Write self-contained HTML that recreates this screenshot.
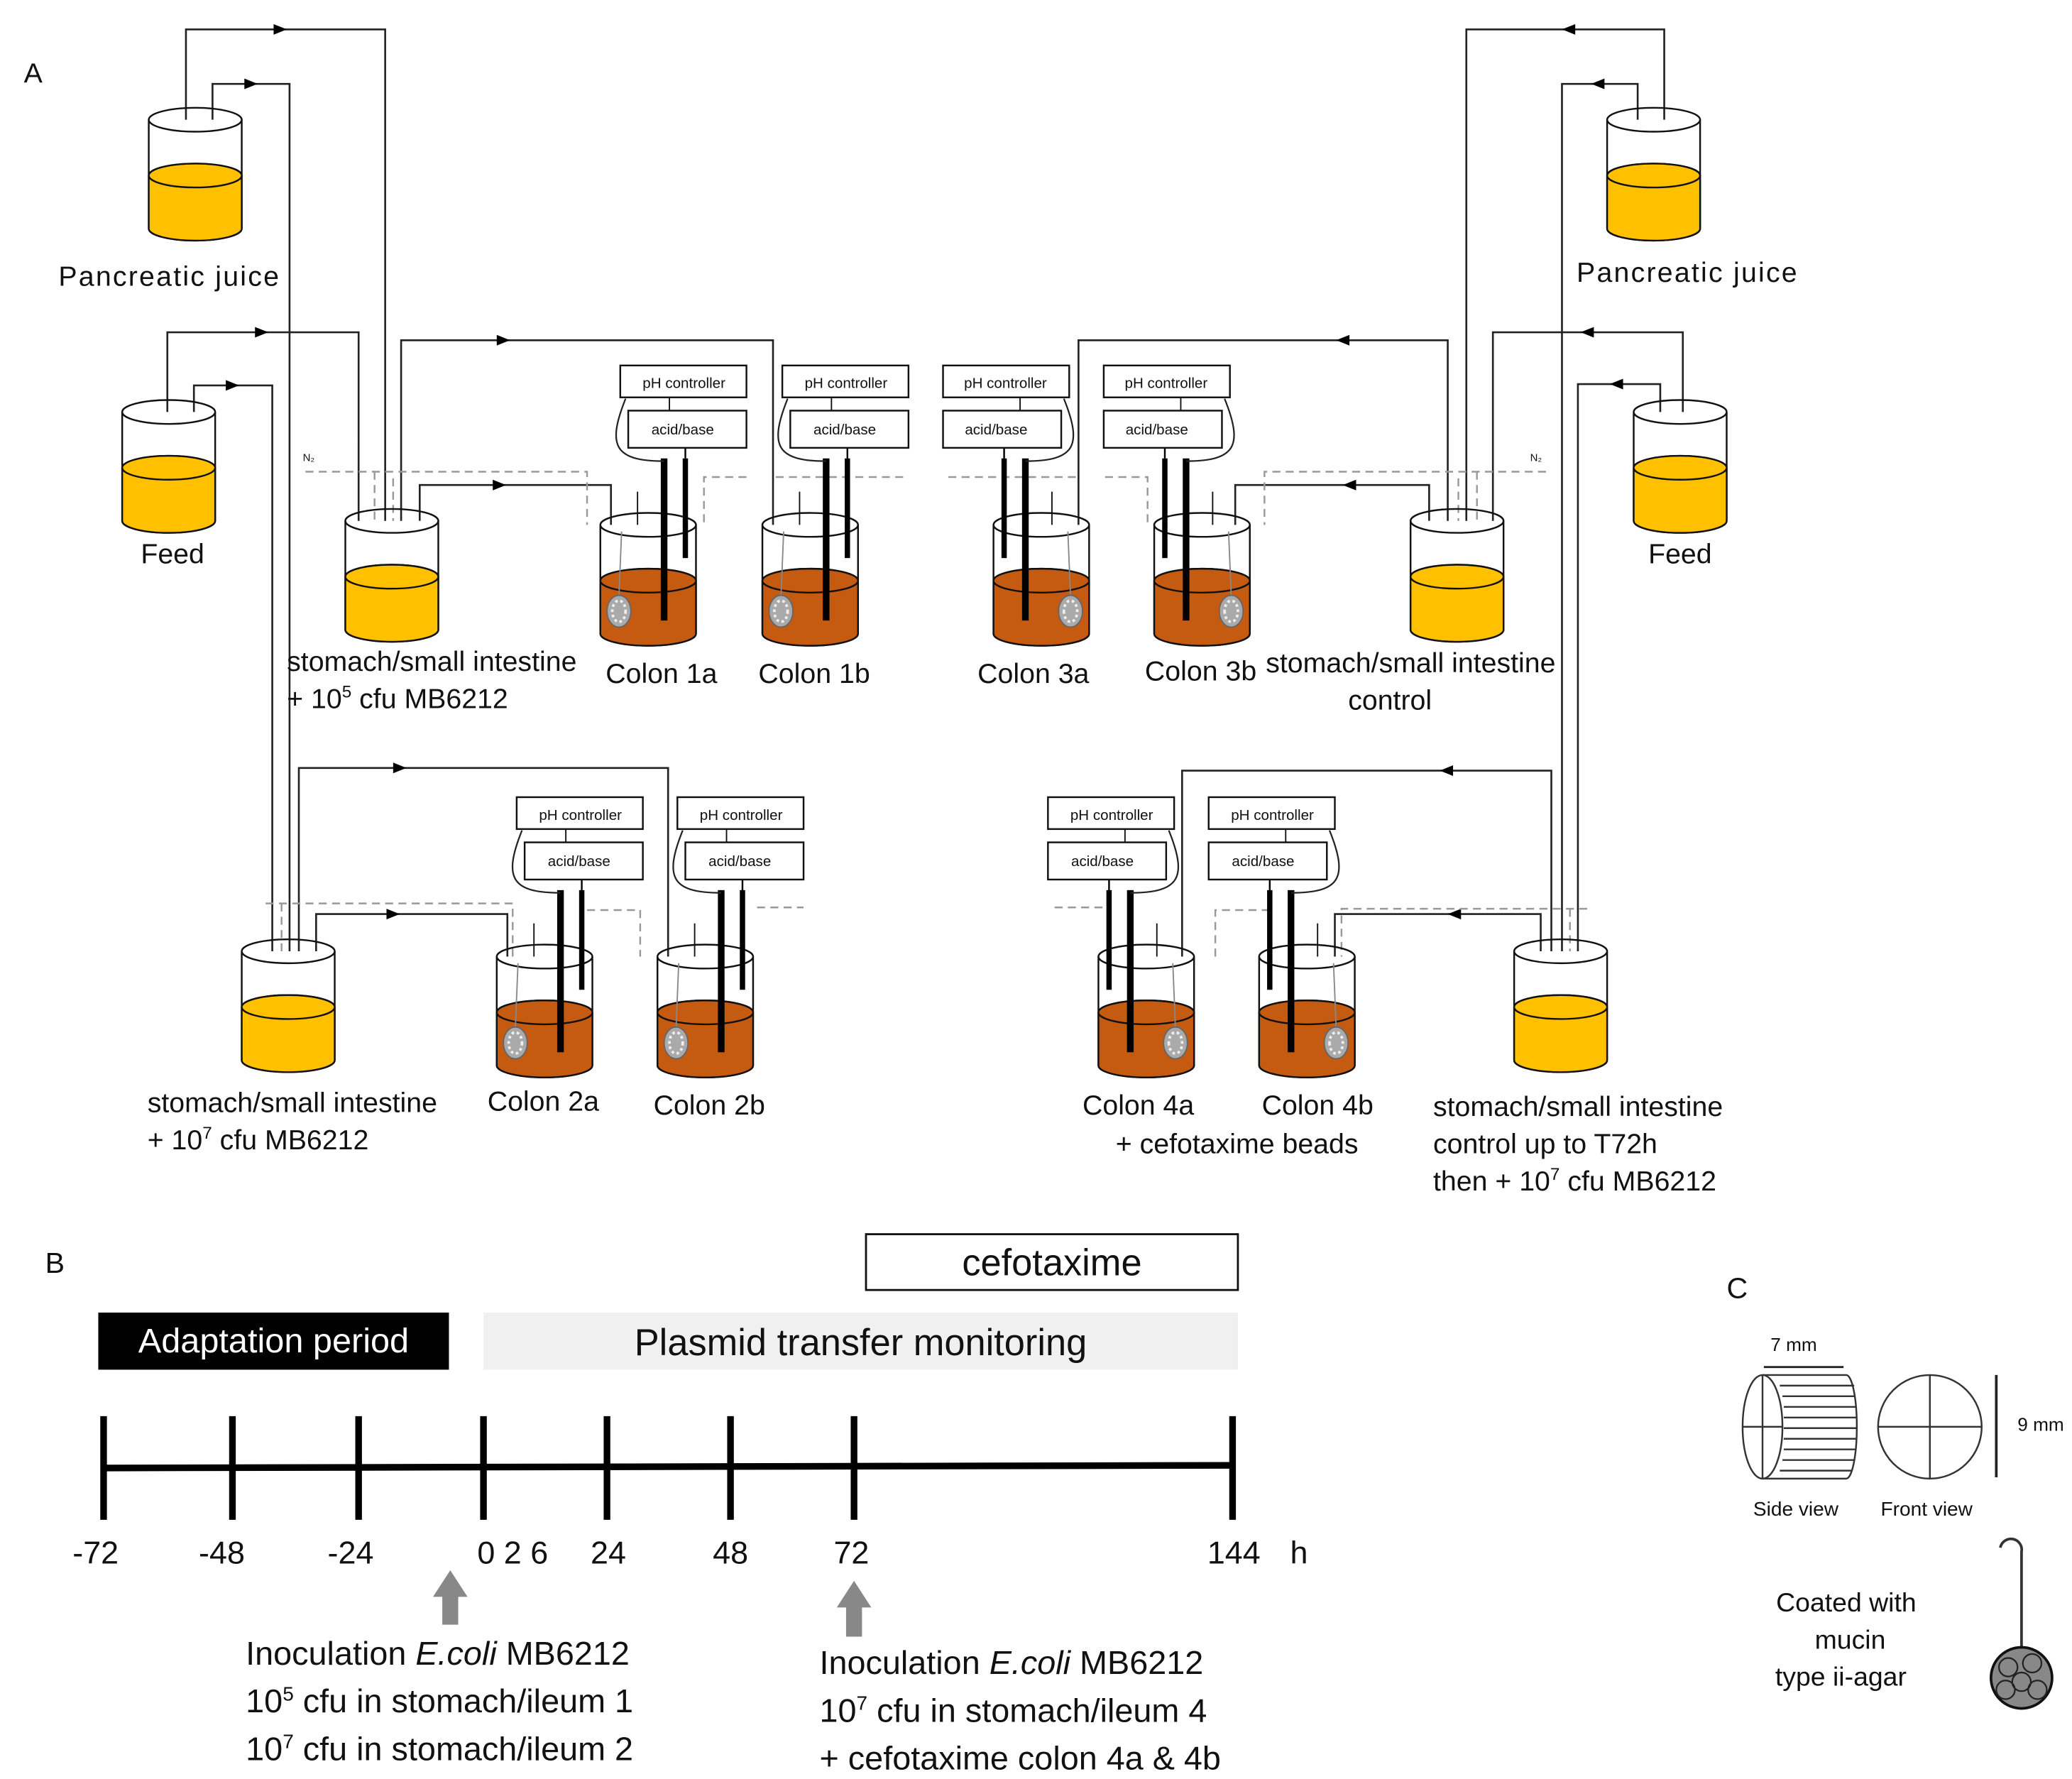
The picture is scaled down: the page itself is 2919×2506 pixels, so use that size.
<!DOCTYPE html>
<html><head><meta charset="utf-8"><style>
html,body{margin:0;padding:0;background:#fff}
svg{display:block}
text{font-family:"Liberation Sans",sans-serif;fill:#111}
</style></head><body>
<svg width="2919" height="2506" viewBox="0 0 1560 1339" xmlns="http://www.w3.org/2000/svg">
<defs>
<g id="yb">
<path d="M0,0 V82 A35,9 0 0 0 70,82 V0" fill="#fff" stroke="#111" stroke-width="1.3"/>
<path d="M0,42 V82 A35,9 0 0 0 70,82 V42 A35,9 0 0 0 0,42Z" fill="#FFC000" stroke="#111" stroke-width="1.3"/>
<ellipse cx="35" cy="42" rx="35" ry="9" fill="#FFC000" stroke="#111" stroke-width="1.3"/>
<ellipse cx="35" cy="0" rx="35" ry="9" fill="none" stroke="#111" stroke-width="1.3"/>
</g>
<g id="cb">
<path d="M0,0 V82 A36,9 0 0 0 72,82 V0" fill="#fff" stroke="#111" stroke-width="1.3"/>
<path d="M0,42 V82 A36,9 0 0 0 72,82 V42 A36,9 0 0 0 0,42Z" fill="#C55A11" stroke="#111" stroke-width="1.3"/>
<ellipse cx="36" cy="42" rx="36" ry="9" fill="#C55A11" stroke="#111" stroke-width="1.3"/>
<ellipse cx="36" cy="0" rx="36" ry="9" fill="none" stroke="#111" stroke-width="1.3"/>
<line x1="16" y1="5" x2="14" y2="54" stroke="#888" stroke-width="1"/>
<ellipse cx="14" cy="65" rx="9" ry="12" fill="#aaa" stroke="#666" stroke-width="1"/>
<ellipse cx="14" cy="65" rx="5" ry="8" fill="none" stroke="#eee" stroke-width="2" stroke-dasharray="2 2"/>
<line x1="48" y1="-50" x2="48" y2="72" stroke="#000" stroke-width="5"/>
<line x1="64" y1="-50" x2="64" y2="25" stroke="#000" stroke-width="4"/>
<line x1="64" y1="-58" x2="64" y2="-50" stroke="#000" stroke-width="1.3"/>
<path d="M19,-95 C5,-60 10,-48 48,-48" fill="none" stroke="#222" stroke-width="1.2"/>
<rect x="15" y="-120" width="95" height="24" fill="#fff" stroke="#111" stroke-width="1.3"/>
<rect x="21" y="-86" width="89" height="28" fill="#fff" stroke="#111" stroke-width="1.3"/>
<line x1="52" y1="-96" x2="52" y2="-86" stroke="#111" stroke-width="1"/>
<line x1="28" y1="-25" x2="28" y2="0" stroke="#111" stroke-width="1"/>
</g>
</defs>

<g fill="none" stroke="#222" stroke-width="1.4">
<polyline points="140,110 140,22 290,22 290,400"/>
<polyline points="160,110 160,63 218,63 218,716"/>
<polyline points="126,330 126,250 270,250 270,395"/>
<polyline points="146,330 146,290 205,290 205,716"/>
<polyline points="302,400 302,256 582,256 582,398"/>
<polyline points="316,392 316,365 460,365 460,398"/>
<polyline points="225,716 225,578 503,578 503,722"/>
<polyline points="238,716 238,688 382,688 382,722"/>
<polyline points="1253,110 1253,22 1104,22 1104,400"/>
<polyline points="1233,110 1233,63 1176,63 1176,716"/>
<polyline points="1267,330 1267,250 1124,250 1124,395"/>
<polyline points="1250,330 1250,289 1188,289 1188,716"/>
<polyline points="1090,400 1090,256 812,256 812,398"/>
<polyline points="1076,392 1076,365 930,365 930,398"/>
<polyline points="1168,716 1168,580 890,580 890,722"/>
<polyline points="1160,716 1160,688 1005,688 1005,722"/>
</g>
<g fill="#000">
<polygon points="206,18 216,22 206,26"/><polygon points="184,59 194,63 184,67"/>
<polygon points="192,246 202,250 192,254"/><polygon points="170,286 180,290 170,294"/>
<polygon points="374,252 384,256 374,260"/><polygon points="371,361 381,365 371,369"/>
<polygon points="296,574 306,578 296,582"/><polygon points="291,684 301,688 291,692"/>
<polygon points="1186,18 1176,22 1186,26"/><polygon points="1208,59 1198,63 1208,67"/>
<polygon points="1200,246 1190,250 1200,254"/><polygon points="1222,285 1212,289 1222,293"/>
<polygon points="1016,252 1006,256 1016,260"/><polygon points="1021,361 1011,365 1021,369"/>
<polygon points="1094,576 1084,580 1094,584"/><polygon points="1100,684 1090,688 1100,692"/>
</g>
<g fill="none" stroke="#999" stroke-width="1.3" stroke-dasharray="6 4">
<polyline points="230,355 442,355 442,395"/><polyline points="282,355 282,395"/><polyline points="296,360 296,395"/>
<polyline points="562,359 530,359 530,395"/><polyline points="584,359 684,359"/>
<polyline points="1164,355 952,355 952,395"/><polyline points="1112,355 1112,395"/><polyline points="1098,360 1098,395"/>
<polyline points="832,359 864,359 864,395"/><polyline points="810,359 710,359"/>
<polyline points="200,680 386,680 386,720"/><polyline points="212,680 212,716"/>
<polyline points="442,685 482,685 482,720"/><polyline points="570,683 605,683"/>
<polyline points="1195,684 1010,684 1010,720"/><polyline points="1182,684 1182,716"/>
<polyline points="956,685 915,685 915,720"/><polyline points="830,683 790,683"/>
</g>
<text x="228" y="347" font-size="8" fill="#999">N₂</text>
<text x="1152" y="347" font-size="8" fill="#999">N₂</text>

<use href="#yb" x="112" y="90"/><use href="#yb" x="92" y="310"/>
<use href="#yb" x="260" y="392"/><use href="#yb" x="182" y="716"/>
<use href="#yb" x="1210" y="90"/><use href="#yb" x="1230" y="310"/>
<use href="#yb" x="1062" y="392"/><use href="#yb" x="1140" y="716"/>
<use href="#cb" transform="translate(452,395)"/>
<use href="#cb" transform="translate(574,395)"/>
<use href="#cb" transform="translate(374,720)"/>
<use href="#cb" transform="translate(495,720)"/>
<use href="#cb" transform="translate(820,395) scale(-1,1)"/>
<use href="#cb" transform="translate(941,395) scale(-1,1)"/>
<use href="#cb" transform="translate(899,720) scale(-1,1)"/>
<use href="#cb" transform="translate(1020,720) scale(-1,1)"/>

<g font-size="11" text-anchor="middle">
<text x="515" y="292">pH controller</text><text x="514" y="327">acid/base</text>
<text x="637" y="292">pH controller</text><text x="636" y="327">acid/base</text>
<text x="437" y="617">pH controller</text><text x="436" y="652">acid/base</text>
<text x="558" y="617">pH controller</text><text x="557" y="652">acid/base</text>
<text x="757" y="292">pH controller</text><text x="750" y="327">acid/base</text>
<text x="878" y="292">pH controller</text><text x="871" y="327">acid/base</text>
<text x="837" y="617">pH controller</text><text x="830" y="652">acid/base</text>
<text x="958" y="617">pH controller</text><text x="951" y="652">acid/base</text>
</g>

<g font-size="21">
<text x="18" y="62">A</text>
<text x="44" y="215" textLength="166">Pancreatic juice</text>
<text x="106" y="424">Feed</text>
<text x="216" y="505">stomach/small intestine</text>
<text x="216" y="533">+ 10<tspan font-size="13" dy="-8">5</tspan><tspan dy="8"> cfu MB6212</tspan></text>
<text x="456" y="514">Colon 1a</text>
<text x="571" y="514">Colon 1b</text>
<text x="736" y="514">Colon 3a</text>
<text x="862" y="512">Colon 3b</text>
<text x="953" y="506">stomach/small intestine</text>
<text x="1015" y="534">control</text>
<text x="1187" y="212" textLength="166">Pancreatic juice</text>
<text x="1241" y="424">Feed</text>
<text x="111" y="837">stomach/small intestine</text>
<text x="111" y="865">+ 10<tspan font-size="13" dy="-8">7</tspan><tspan dy="8"> cfu MB6212</tspan></text>
<text x="367" y="836">Colon 2a</text>
<text x="492" y="839">Colon 2b</text>
<text x="815" y="839">Colon 4a</text>
<text x="950" y="839">Colon 4b</text>
<text x="840" y="868">+ cefotaxime beads</text>
<text x="1079" y="840">stomach/small intestine</text>
<text x="1079" y="868">control up to T72h</text>
<text x="1079" y="896">then + 10<tspan font-size="13" dy="-8">7</tspan><tspan dy="8"> cfu MB6212</tspan></text>
</g>

<text x="34" y="958" font-size="22">B</text>
<rect x="652" y="929" width="280" height="42" fill="#fff" stroke="#111" stroke-width="1.5"/>
<text x="792" y="960" font-size="28" text-anchor="middle">cefotaxime</text>
<rect x="74" y="988" width="264" height="43" fill="#000"/>
<text x="206" y="1018" font-size="26" text-anchor="middle" style="fill:#fff">Adaptation period</text>
<rect x="364" y="988" width="568" height="43" fill="#f0f0f0"/>
<text x="648" y="1020" font-size="28" text-anchor="middle">Plasmid transfer monitoring</text>
<g stroke="#000" stroke-width="5">
<line x1="78" y1="1105" x2="928" y2="1103"/>
<line x1="78" y1="1066" x2="78" y2="1144"/><line x1="175" y1="1066" x2="175" y2="1144"/>
<line x1="270" y1="1066" x2="270" y2="1144"/><line x1="364" y1="1066" x2="364" y2="1144"/>
<line x1="457" y1="1066" x2="457" y2="1144"/><line x1="550" y1="1066" x2="550" y2="1144"/>
<line x1="643" y1="1066" x2="643" y2="1144"/><line x1="928" y1="1066" x2="928" y2="1144"/>
</g>
<g font-size="24" text-anchor="middle">
<text x="72" y="1177">-72</text><text x="167" y="1177">-48</text><text x="264" y="1177">-24</text>
<text x="386" y="1177">0 2 6</text><text x="458" y="1177">24</text><text x="550" y="1177">48</text>
<text x="641" y="1177">72</text><text x="929" y="1177">144</text><text x="978" y="1177">h</text>
</g>
<polygon points="339,1182 352,1202 345,1202 345,1223 333,1223 333,1202 326,1202" fill="#888"/>
<polygon points="643,1190 656,1210 649,1210 649,1232 637,1232 637,1210 630,1210" fill="#888"/>
<g font-size="25">
<text x="185" y="1253">Inoculation <tspan font-style="italic">E.coli</tspan> MB6212</text>
<text x="185" y="1289">10<tspan font-size="15" dy="-9">5</tspan><tspan dy="9"> cfu in stomach/ileum 1</tspan></text>
<text x="185" y="1325">10<tspan font-size="15" dy="-9">7</tspan><tspan dy="9"> cfu in stomach/ileum 2</tspan></text>
<text x="617" y="1260">Inoculation <tspan font-style="italic">E.coli</tspan> MB6212</text>
<text x="617" y="1296">10<tspan font-size="15" dy="-9">7</tspan><tspan dy="9"> cfu in stomach/ileum 4</tspan></text>
<text x="617" y="1332">+ cefotaxime colon 4a &amp; 4b</text>
</g>

<text x="1300" y="977" font-size="22">C</text>
<text x="1333" y="1017" font-size="14">7 mm</text>
<line x1="1328" y1="1029" x2="1388" y2="1029" stroke="#222" stroke-width="1.5"/>
<g fill="none" stroke="#333" stroke-width="1.3">
<path d="M1327,1035 H1390 A8,39 0 0 1 1390,1113 H1327"/>
<ellipse cx="1327" cy="1074" rx="15" ry="39" fill="#fff"/>
<line x1="1327" y1="1035" x2="1327" y2="1113"/><line x1="1312" y1="1074" x2="1342" y2="1074"/>
<path d="M1340,1043H1396M1342,1051H1397M1343,1059H1398M1343,1067H1398M1343,1075H1398M1343,1083H1398M1343,1091H1397M1342,1099H1396M1340,1107H1394"/>
<ellipse cx="1453" cy="1074" rx="39" ry="39"/>
<line x1="1453" y1="1035" x2="1453" y2="1113"/><line x1="1414" y1="1074" x2="1492" y2="1074"/>
<line x1="1503" y1="1035" x2="1503" y2="1112" stroke="#222" stroke-width="2"/>
<path d="M1522,1240 V1168 A8,8 0 0 0 1506,1165" stroke-width="2"/>
</g>
<text x="1519" y="1077" font-size="14">9 mm</text>
<text x="1320" y="1141" font-size="15">Side view</text>
<text x="1416" y="1141" font-size="15">Front view</text>
<g font-size="20" text-anchor="middle">
<text x="1390" y="1213">Coated with</text>
<text x="1393" y="1241">mucin</text>
<text x="1386" y="1269">type ii-agar</text>
</g>
<circle cx="1522" cy="1263" r="23" fill="#888" stroke="#111" stroke-width="2"/>
<g fill="none" stroke="#222" stroke-width="1.2">
<circle cx="1512" cy="1255" r="7"/><circle cx="1530" cy="1252" r="7"/><circle cx="1522" cy="1266" r="7"/>
<circle cx="1510" cy="1272" r="7"/><circle cx="1534" cy="1272" r="7"/>
</g>
</svg>
</body></html>
